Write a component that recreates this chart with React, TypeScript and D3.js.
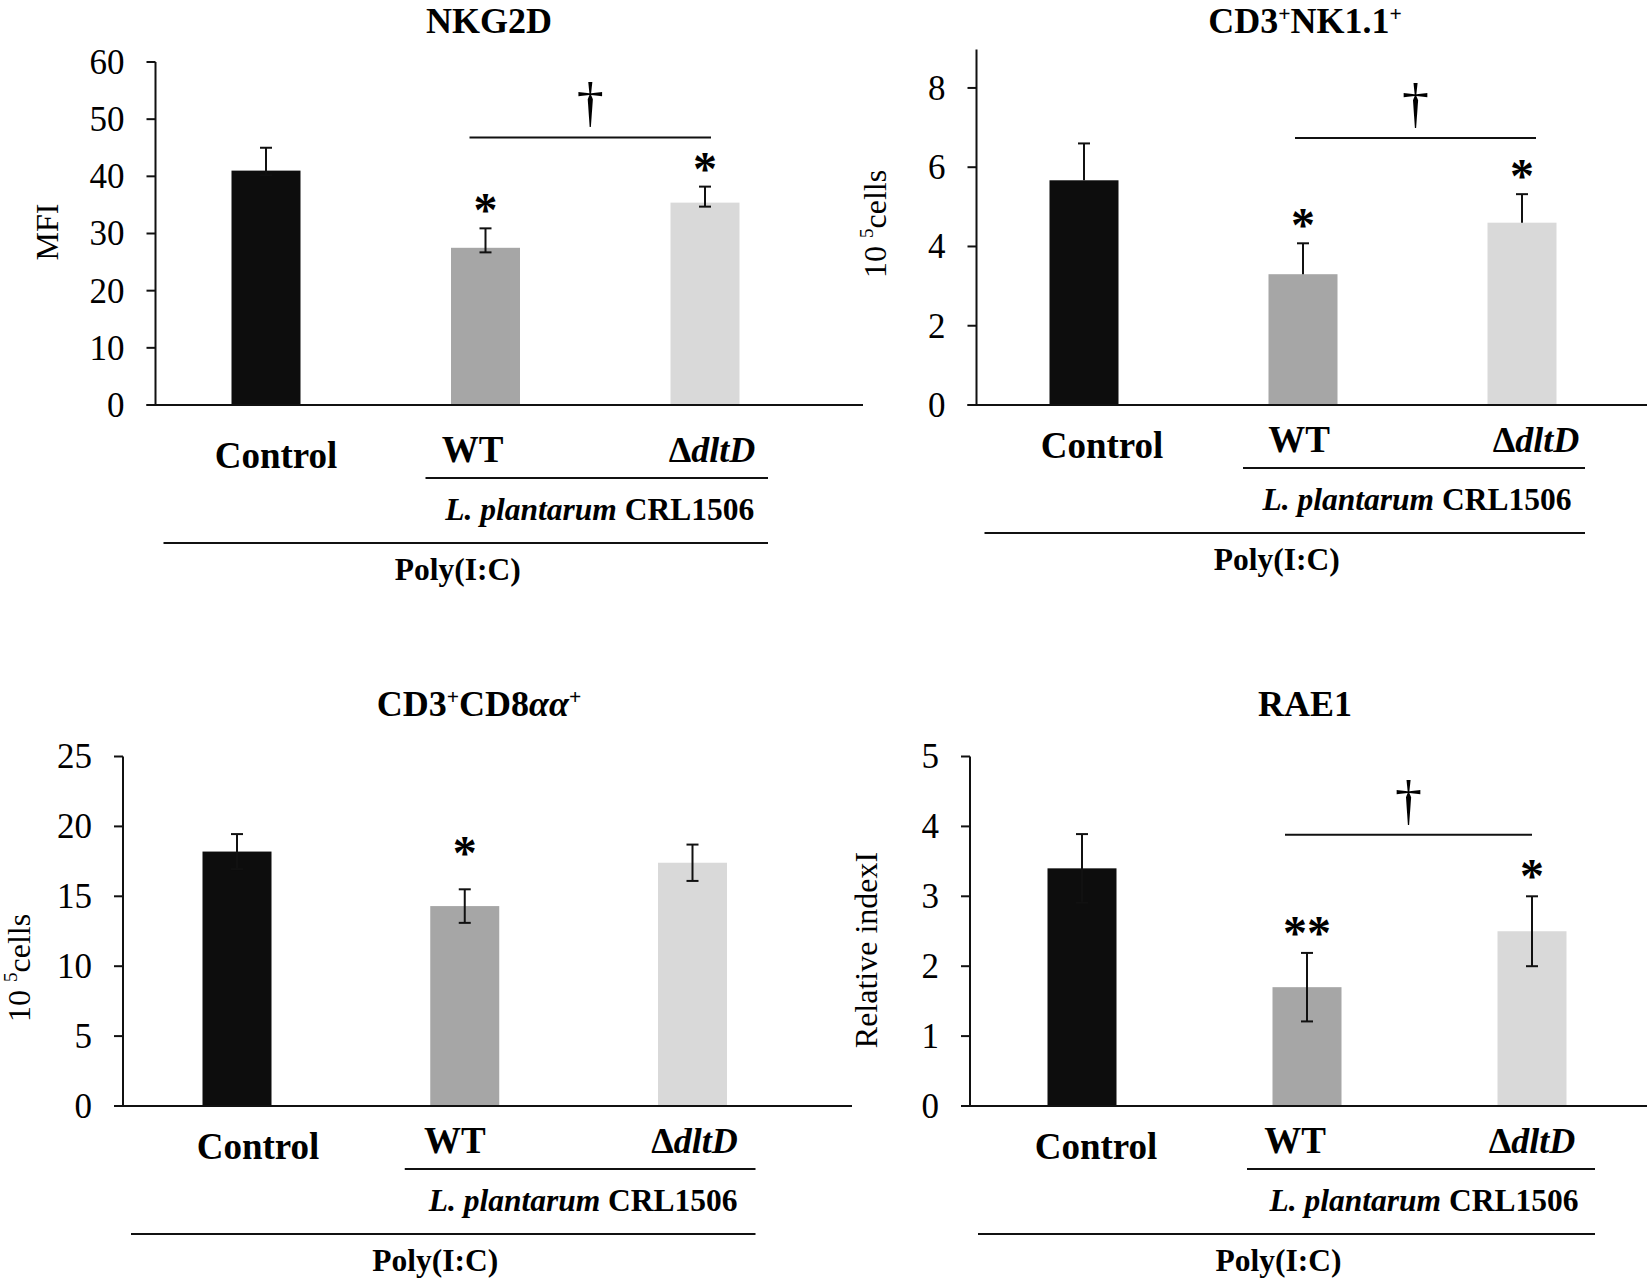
import { scaleLinear, scalePoint } from "d3";

const FONT = "'Times New Roman', 'Liberation Serif', serif";

const CATEGORIES = ["Control", "WT", "ΔdltD"];
const BAR_COLORS = ["#0d0d0d", "#a6a6a6", "#d9d9d9"];

// NKG2D (MFI)
const NKG2D_MEAN = [41.0, 27.5, 35.4];
const NKG2D_ERR_UP = [4.0, 3.4, 2.8];
const NKG2D_ERR_DOWN = [0.8, 0.8, 0.7];
const NKG2D_TICKS = [0, 10, 20, 30, 40, 50, 60];
const NKG2D_MARKS = ["", "*", "*"];
const NKG2D_BRACKET = 46.8;

// CD3+NK1.1+ (10^5 cells)
const NK11_MEAN = [5.67, 3.3, 4.6];
const NK11_ERR_UP = [0.93, 0.78, 0.72];
const NK11_ERR_DOWN = [0, 0, 0];
const NK11_TICKS = [0, 2, 4, 6, 8];
const NK11_MARKS = ["", "*", "*"];
const NK11_BRACKET = 6.74;

// CD3+CD8aa+ (10^5 cells)
const CD8_MEAN = [18.2, 14.3, 17.4];
const CD8_ERR = [1.25, 1.2, 1.3];
const CD8_TICKS = [0, 5, 10, 15, 20, 25];
const CD8_MARKS = ["", "*", ""];

// RAE1 (relative index)
const RAE1_MEAN = [3.4, 1.7, 2.5];
const RAE1_ERR = [0.49, 0.49, 0.5];
const RAE1_TICKS = [0, 1, 2, 3, 4, 5];
const RAE1_MARKS = ["", "**", "*"];
const RAE1_BRACKET = 3.88;

type Layout = {
  axisX: number;
  y0: number;
  yTop: number;
  xRight: number;
  centers: [number, number];
  labelDx: number[];
  labelShift: number;
  markGap: number;
  bracketDx: number;
  titleX: number;
  titleY: number;
  yLabelX: number;
  yLabelY: number;
};

type ChartProps = {
  title: React.ReactNode;
  yLabel: React.ReactNode;
  domain: [number, number];
  mean: number[];
  errUp: number[];
  errDown: number[];
  ticks: number[];
  marks: string[];
  bracket?: number;
  lay: Layout;
};

const Sup = ({ children }: { children: string }) => (
  <tspan fontSize="60%" dy={-12}>
    {children}
  </tspan>
);

const Chart = ({
  title,
  yLabel,
  domain,
  mean,
  errUp,
  errDown,
  ticks,
  marks,
  bracket,
  lay,
}: ChartProps) => {
  const y = scaleLinear().domain(domain).range([lay.y0, lay.yTop]);
  const x = scalePoint<string>().domain(CATEGORIES).range(lay.centers);
  const barW = 69;
  const base = lay.y0 + lay.labelShift;
  const l1a = x("WT")! - 60;
  const l1b = x("ΔdltD")! + 63;
  const l2a = lay.axisX + 8;
  const bA = x("WT")! - 16 + lay.bracketDx;
  const bB = x("ΔdltD")! + 6 + lay.bracketDx;

  return (
    <g fontFamily={FONT}>
      <text
        x={lay.titleX}
        y={lay.titleY}
        textAnchor="middle"
        fontWeight="bold"
        fontSize={36}
      >
        {title}
      </text>

      <text
        transform={`translate(${lay.yLabelX},${lay.yLabelY}) rotate(-90)`}
        textAnchor="middle"
        dominantBaseline="central"
        fontSize={32}
      >
        {yLabel}
      </text>

      {/* bars */}
      {CATEGORIES.map((c, i) => (
        <rect
          key={c}
          x={x(c)! - barW / 2}
          y={y(mean[i])}
          width={barW}
          height={lay.y0 - y(mean[i])}
          fill={BAR_COLORS[i]}
        />
      ))}

      {/* error bars */}
      {CATEGORIES.map((c, i) => {
        const cx = x(c)!;
        const top = y(mean[i] + errUp[i]);
        const bot = y(mean[i] - errDown[i]);
        return (
          <g key={c} stroke="#111" strokeWidth={2}>
            <line x1={cx} x2={cx} y1={top} y2={bot} />
            <line x1={cx - 6} x2={cx + 6} y1={top} y2={top} />
            {errDown[i] > 0 && (
              <line x1={cx - 6} x2={cx + 6} y1={bot} y2={bot} />
            )}
          </g>
        );
      })}

      {/* significance marks */}
      {CATEGORIES.map((c, i) =>
        marks[i] ? (
          <text
            key={c}
            x={x(c)!}
            y={y(mean[i] + errUp[i]) - lay.markGap + 22}
            textAnchor="middle"
            fontSize={48}
            fontWeight="bold"
          >
            {marks[i]}
          </text>
        ) : null
      )}

      {bracket !== undefined && (
        <g>
          <line
            x1={bA}
            x2={bB}
            y1={y(bracket)}
            y2={y(bracket)}
            stroke="#111"
            strokeWidth={2}
          />
          <text
            x={(bA + bB) / 2}
            y={y(bracket) - 16}
            textAnchor="middle"
            fontSize={54}
          >
            †
          </text>
        </g>
      )}

      {/* axes */}
      <line
        x1={lay.axisX}
        x2={lay.axisX}
        y1={lay.yTop}
        y2={lay.y0}
        stroke="#111"
        strokeWidth={2}
      />
      <line
        x1={lay.axisX - 9}
        x2={lay.xRight}
        y1={lay.y0}
        y2={lay.y0}
        stroke="#111"
        strokeWidth={2}
      />
      {ticks.map((t) => (
        <g key={t}>
          <line
            x1={lay.axisX - 9}
            x2={lay.axisX}
            y1={y(t)}
            y2={y(t)}
            stroke="#111"
            strokeWidth={2}
          />
          <text
            x={lay.axisX - 31}
            y={y(t)}
            dy="0.34em"
            textAnchor="end"
            fontSize={35}
          >
            {t}
          </text>
        </g>
      ))}

      {/* category labels */}
      <g fontWeight="bold" textAnchor="middle">
        <text x={x("Control")! + lay.labelDx[0]} y={base + 53} fontSize={37}>
          Control
        </text>
        <text x={x("WT")! + lay.labelDx[1]} y={base + 47} fontSize={37}>
          WT
        </text>
        <text x={x("ΔdltD")! + lay.labelDx[2]} y={base + 47} fontSize={36}>
          Δ<tspan fontStyle="italic">dltD</tspan>
        </text>
      </g>
      <line x1={l1a} x2={l1b} y1={base + 63} y2={base + 63} stroke="#111" strokeWidth={2} />
      <text
        x={(l1a + l1b) / 2 + 3}
        y={base + 105}
        textAnchor="middle"
        fontWeight="bold"
        fontSize={31.5}
      >
        <tspan fontStyle="italic">L. plantarum</tspan> CRL1506
      </text>
      <line x1={l2a} x2={l1b} y1={base + 128} y2={base + 128} stroke="#111" strokeWidth={2} />
      <text
        x={(l2a + l1b) / 2 - 8}
        y={base + 165}
        textAnchor="middle"
        fontWeight="bold"
        fontSize={31.5}
      >
        Poly(I:C)
      </text>
    </g>
  );
};

const cellsLabel = (
  <>
    10 <tspan fontSize="60%" dy={-9}>5</tspan>
    <tspan dy={9}>cells</tspan>
  </>
);

export default function App() {
  return (
    <svg
      width={1650}
      height={1281}
      style={{ position: "absolute", left: 0, top: 0, background: "#fff" }}
    >
      <rect width={1650} height={1281} fill="#fff" />
      <Chart
        title="NKG2D"
        yLabel="MFI"
        domain={[0, 60]}
        mean={NKG2D_MEAN}
        errUp={NKG2D_ERR_UP}
        errDown={NKG2D_ERR_DOWN}
        ticks={NKG2D_TICKS}
        marks={NKG2D_MARKS}
        bracket={NKG2D_BRACKET}
        lay={{
          axisX: 155.5,
          y0: 405,
          yTop: 62,
          xRight: 863,
          centers: [266, 705],
          labelDx: [10, -13, 7],
          labelShift: 10,
          markGap: 24,
          bracketDx: 0,
          titleX: 489,
          titleY: 33,
          yLabelX: 47,
          yLabelY: 232,
        }}
      />
      <Chart
        title={
          <>
            CD3<Sup>+</Sup>
            <tspan dy={12}>NK1.1</tspan>
            <Sup>+</Sup>
          </>
        }
        yLabel={cellsLabel}
        domain={[0, 8.97]}
        mean={NK11_MEAN}
        errUp={NK11_ERR_UP}
        errDown={NK11_ERR_DOWN}
        ticks={NK11_TICKS}
        marks={NK11_MARKS}
        bracket={NK11_BRACKET}
        lay={{
          axisX: 976.5,
          y0: 405,
          yTop: 49.5,
          xRight: 1647,
          centers: [1084, 1522],
          labelDx: [18, -4, 14],
          labelShift: 0,
          markGap: 24,
          bracketDx: 8,
          titleX: 1305,
          titleY: 33,
          yLabelX: 875,
          yLabelY: 224,
        }}
      />
      <Chart
        title={
          <>
            CD3<Sup>+</Sup>
            <tspan dy={12}>CD8</tspan>
            <tspan fontStyle="italic">αα</tspan>
            <Sup>+</Sup>
          </>
        }
        yLabel={cellsLabel}
        domain={[0, 25]}
        mean={CD8_MEAN}
        errUp={CD8_ERR}
        errDown={CD8_ERR}
        ticks={CD8_TICKS}
        marks={CD8_MARKS}
        lay={{
          axisX: 123,
          y0: 1106,
          yTop: 756.5,
          xRight: 852,
          centers: [237, 692.5],
          labelDx: [21, -10, 2],
          labelShift: 0,
          markGap: 42,
          bracketDx: 0,
          titleX: 479,
          titleY: 716,
          yLabelX: 19,
          yLabelY: 968,
        }}
      />
      <Chart
        title="RAE1"
        yLabel="Relative indexI"
        domain={[0, 5]}
        mean={RAE1_MEAN}
        errUp={RAE1_ERR}
        errDown={RAE1_ERR}
        ticks={RAE1_TICKS}
        marks={RAE1_MARKS}
        bracket={RAE1_BRACKET}
        lay={{
          axisX: 970,
          y0: 1106,
          yTop: 756.5,
          xRight: 1647,
          centers: [1082, 1532],
          labelDx: [14, -12, 0],
          labelShift: 0,
          markGap: 26,
          bracketDx: -6,
          titleX: 1305,
          titleY: 716,
          yLabelX: 866,
          yLabelY: 950,
        }}
      />
    </svg>
  );
}
